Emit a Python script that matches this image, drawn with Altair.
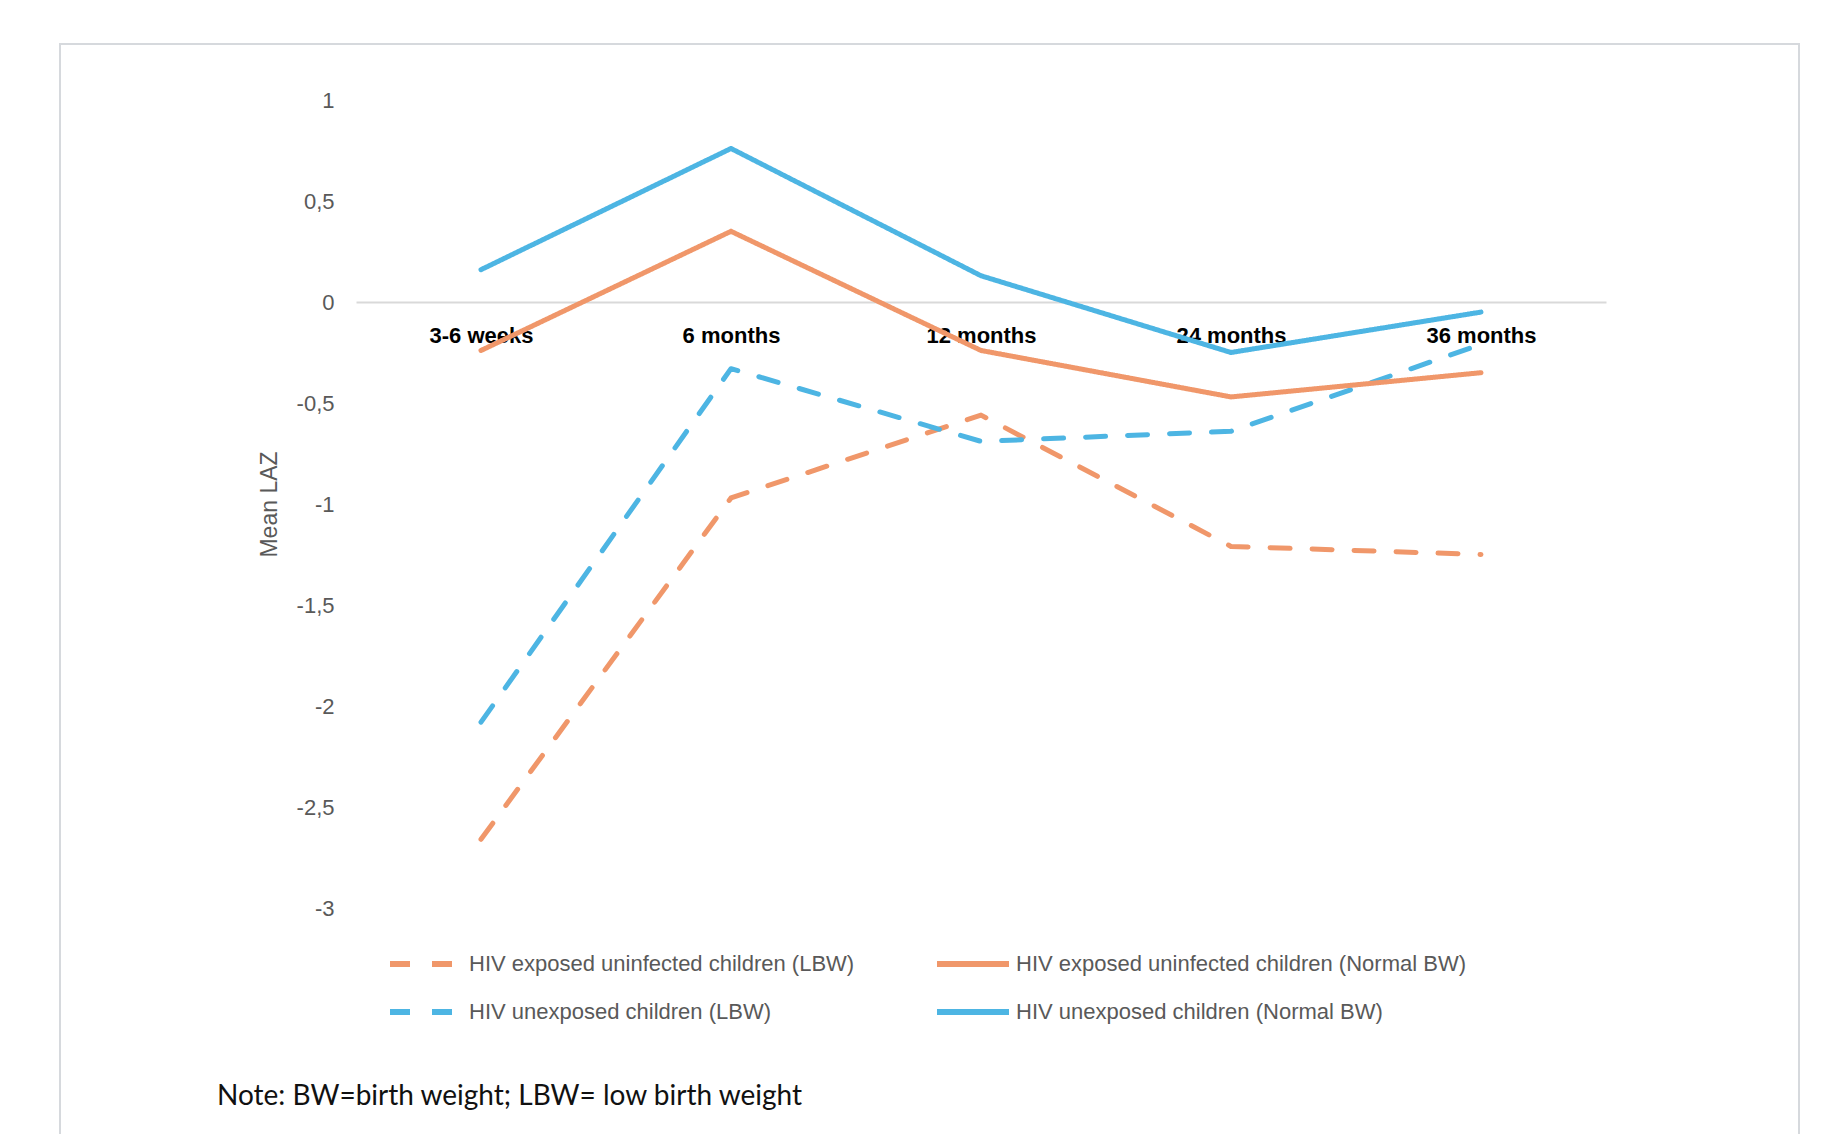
import altair as alt
import pandas as pd

# ---- data ----
timepoints = ["3-6 weeks", "6 months", "12 months", "24 months", "36 months"]
series_names = [
    "HIV exposed uninfected children (LBW)",
    "HIV unexposed children (LBW)",
    "HIV exposed uninfected children (Normal BW)",
    "HIV unexposed children (Normal BW)",
]
heu_lbw = [-2.66, -0.97, -0.56, -1.21, -1.25]
hu_lbw = [-2.08, -0.33, -0.69, -0.64, -0.21]
heu_nbw = [-0.24, 0.35, -0.24, -0.47, -0.35]
hu_nbw = [0.16, 0.76, 0.13, -0.25, -0.05]
y_ticks = [-3, -2.5, -2, -1.5, -1, -0.5, 0, 0.5, 1]
note_text = ["Note: BW=birth weight; LBW= low birth weight"]

series_colors = ["#F0976A", "#4DB5E3", "#F0976A", "#4DB5E3"]
series_dash = [[20, 22], [20, 22], [1, 0], [1, 0]]

rows = []
for name, vals in zip(series_names, [heu_lbw, hu_lbw, heu_nbw, hu_nbw]):
    for t, v in zip(timepoints, vals):
        rows.append({"series": name, "time": t, "laz": v})
df = pd.DataFrame(rows)
note_df = pd.DataFrame({"note": note_text})

W, H = 1250, 808
PAD_L, PAD_T = 356, 100

lines = alt.Chart(df).mark_line(strokeWidth=5, strokeCap="round", strokeJoin="round").encode(
    x=alt.X(
        "time:N",
        sort=timepoints,
        scale=alt.Scale(type="point", padding=0.5),
        axis=alt.Axis(
            title=None,
            orient="bottom",
            offset=-606,
            domainColor="#D9D9D9",
            domainWidth=2,
            ticks=False,
            tickSize=0,
            labelPadding=23,
            labelFont="Liberation Sans",
            labelFontSize=22,
            labelFontWeight="bold",
            labelColor="#000000",
            labelAngle=0,
            grid=False,
        ),
    ),
    y=alt.Y(
        "laz:Q",
        scale=alt.Scale(domain=[-3, 1], nice=False, zero=False),
        axis=alt.Axis(
            title="Mean LAZ",
            values=y_ticks,
            labelExpr="replace(toString(datum.value), '.', ',')",
            domain=False,
            ticks=False,
            grid=False,
            labelPadding=22,
            labelFont="Liberation Sans",
            labelFontSize=22,
            labelColor="#595959",
            titleFont="Liberation Sans",
            titleFontSize=23,
            titleFontWeight="normal",
            titleColor="#595959",
            titleAngle=-90,
            titleX=-87,
            titleY=404,
            titleAlign="center",
            titleBaseline="middle",
        ),
    ),
    color=alt.Color(
        "series:N",
        scale=alt.Scale(domain=series_names, range=series_colors),
        legend=alt.Legend(
            title=None,
            orient="none",
            legendX=31,
            legendY=852,
            columns=2,
            columnPadding=79,
            rowPadding=24,
            clipHeight=24,
            padding=0,
            symbolType="stroke",
            symbolSize=5184,
            symbolStrokeWidth=6,
            labelFont="Liberation Sans",
            labelFontSize=22,
            labelColor="#595959",
            labelOffset=4,
            labelLimit=600,
        ),
    ),
    strokeDash=alt.StrokeDash(
        "series:N",
        scale=alt.Scale(domain=series_names, range=series_dash),
        legend=None,
    ),
)

border = alt.Chart(note_df).mark_rect(fill=None, stroke="#D6D9DD", strokeWidth=2).encode(
    x=alt.value(-296), x2=alt.value(1443), y=alt.value(-56), y2=alt.value(1080)
)

note = alt.Chart(note_df).mark_text(
    align="left", baseline="middle", font="Lato", fontSize=28, color="#111111"
).encode(x=alt.value(-139), y=alt.value(997), text="note:N")

chart = alt.layer(border, lines, note).properties(
    width=W,
    height=H,
    autosize=alt.AutoSizeParams(type="none"),
    padding={"left": PAD_L, "top": PAD_T, "right": 1832 - PAD_L - W, "bottom": 1134 - PAD_T - H},
).configure(background="white").configure_view(strokeWidth=0, stroke=None)

chart.save("out.html", embed_options={"renderer": "svg", "actions": False})
